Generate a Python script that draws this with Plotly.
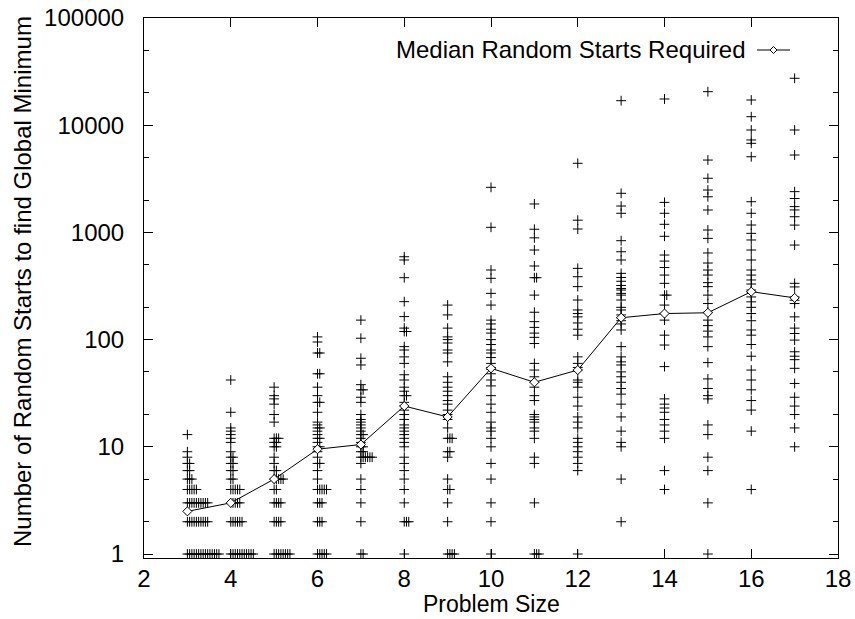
import math
import plotly.graph_objects as go

# ---------------- data ----------------
problem_sizes = [3, 4, 5, 6, 7, 8, 9, 10, 11, 12, 13, 14, 15, 16, 17]
median_starts = [2.5, 3, 5, 9.5, 10.5, 24, 19, 54, 40, 52, 160, 175, 178, 280, 245]

starts_3 = [13, 9, 8, 7, 7, 6, 6, 5, 5, 5] + [4] * 5 + [3] * 10 + [2] * 10 + [1] * 15
starts_4 = [42, 21, 15, 14, 13, 12, 11, 9, 8, 8, 7, 7, 6, 6, 5, 5] + [4] * 5 + [3] * 5 + [2] * 6 + [1] * 11
starts_5 = [36, 30, 28, 25, 20, 17, 12, 12, 12, 11, 11, 10, 10, 8, 7, 6, 6] + [5] * 5 + [4] * 2 + [3] * 4 + [2] * 4 + [1] * 8
starts_6 = [106, 95, 75, 75, 48, 48, 36, 30, 26, 26, 21, 17, 16, 15, 15, 14, 13, 12, 12, 11, 10, 10, 9, 8, 7, 7, 6, 5] + [4] * 5 + [3] * 3 + [2] * 3 + [1] * 5
starts_7 = [152, 103, 67, 58, 38, 34, 34, 29, 26, 20, 18, 17, 16, 15, 14, 13, 13, 12, 11, 10, 10, 9, 9] + [8] * 6 + [7, 5, 4, 3, 2, 1, 1]
starts_8 = [593, 553, 378, 226, 164, 128, 119, 119, 86, 80, 69, 60, 47, 42, 36, 33, 30, 30, 26, 24, 22, 20, 18, 16, 15, 14, 13, 12, 11, 10, 8, 7, 6, 5, 4, 3, 2, 2, 2, 1]
starts_9 = [210, 170, 128, 106, 100, 93, 80, 75, 62, 45, 40, 36, 33, 30, 27, 25, 22, 20, 18, 15, 12, 12, 12, 9, 9, 8, 5, 4, 4, 3, 2, 1, 1, 1, 1]
starts_10 = [2634, 1116, 446, 373, 270, 210, 152, 140, 125, 115, 100, 90, 80, 75, 68, 60, 55, 53, 48, 42, 37, 30, 25, 21, 17, 15, 14, 12, 10, 7, 5, 3, 2, 1]
starts_11 = [1842, 1070, 890, 685, 486, 378, 378, 260, 180, 147, 130, 115, 105, 92, 60, 52, 45, 40, 36, 30, 27, 20, 19, 18, 17, 15, 14, 12, 8, 7, 3, 1, 1, 1]
starts_12 = [4413, 1300, 1076, 462, 386, 312, 234, 189, 175, 163, 143, 125, 110, 69, 60, 55, 52, 42, 40, 36, 29, 24, 19, 17, 15, 12, 11, 10, 9, 8, 7, 6, 1]
starts_13 = [16930, 2317, 1762, 1508, 837, 660, 553, 415, 380, 350, 320, 300, 290, 270, 260, 234, 200, 189, 170, 160, 150, 140, 123, 86, 69, 62, 58, 50, 45, 40, 35, 31, 25, 19, 14, 11, 10, 5, 2]
starts_14 = [17560, 1906, 1508, 1190, 920, 615, 540, 470, 400, 335, 260, 260, 210, 176, 175, 152, 110, 89, 56, 28, 25, 23, 21, 18, 16, 14, 12, 6, 4]
starts_15 = [20550, 4730, 3200, 2485, 2150, 1618, 1053, 880, 643, 518, 446, 400, 340, 312, 260, 217, 180, 152, 135, 120, 106, 86, 61, 43, 35, 30, 28, 16, 13, 8, 6, 3, 1]
starts_16 = [17180, 12000, 9020, 7280, 6780, 5080, 1933, 1508, 1172, 980, 850, 685, 553, 446, 400, 360, 330, 290, 280, 250, 225, 200, 175, 150, 123, 110, 90, 70, 52, 42, 34, 27, 22, 14, 4]
starts_17 = [27400, 9020, 5270, 2400, 2070, 1740, 1620, 1400, 1170, 762, 335, 310, 250, 233, 217, 163, 128, 114, 99, 77, 70, 65, 54, 39, 29, 24, 20, 15, 10]

all_starts = [starts_3, starts_4, starts_5, starts_6, starts_7, starts_8, starts_9,
              starts_10, starts_11, starts_12, starts_13, starts_14, starts_15,
              starts_16, starts_17]

x_ticks = [2, 4, 6, 8, 10, 12, 14, 16, 18]
y_ticks = [1, 10, 100, 1000, 10000, 100000]
y_tick_text = ["1", "10", "100", "1000", "10000", "100000"]

# ---------------- build scatter with swarm-style jitter for duplicates ----------------
JITTER = 0.052
px, py = [], []
for size, vals in zip(problem_sizes, all_starts):
    seen = {}
    for v in vals:
        k = seen.get(v, 0)
        seen[v] = k + 1
        px.append(size + k * JITTER)
        py.append(v)

FONT = "Liberation Sans, Arial, sans-serif"
FS = 24

fig = go.Figure()
fig.add_trace(go.Scatter(
    x=px, y=py, mode="markers", showlegend=False,
    marker=dict(symbol="cross-thin", size=7, color="black",
                line=dict(width=1, color="black")),
    hoverinfo="x+y",
))
fig.add_trace(go.Scatter(
    x=problem_sizes, y=median_starts, mode="lines+markers",
    name="Median Random Starts Required", showlegend=False,
    line=dict(color="black", width=1),
    marker=dict(symbol="diamond", size=7, color="white",
                line=dict(width=1, color="black")),
))

# plot-area geometry in pixels (for the gnuplot-style legend placed inside)
L, R, T, B = 144, 838, 18, 558
W, H = R - L, B - T

fig.add_annotation(xref="paper", yref="paper", x=(748 - L) / W, y=1 - (50 - T) / H,
                   text="Median Random Starts Required", showarrow=False,
                   xanchor="right", yanchor="middle",
                   font=dict(family=FONT, size=FS, color="black"))
lx0, lx1, ly = (757 - L) / W, (790 - L) / W, 1 - (50 - T) / H
fig.add_shape(type="line", xref="paper", yref="paper", x0=lx0, x1=lx1, y0=ly, y1=ly,
              line=dict(color="black", width=1))
cx = (lx0 + lx1) / 2
dx, dy = 3.5 / W, 3.5 / H
fig.add_shape(type="path", xref="paper", yref="paper",
              path=f"M {cx - dx} {ly} L {cx} {ly + dy} L {cx + dx} {ly} L {cx} {ly - dy} Z",
              fillcolor="white", line=dict(color="black", width=1))

# axis titles, placed like gnuplot's xlabel / ylabel
fig.add_annotation(xref="paper", yref="paper", x=(22 - L) / W, y=1 - (282 - T) / H,
                   text="Number of Random Starts to find Global Minimum", showarrow=False,
                   textangle=-90, xanchor="center", yanchor="middle",
                   font=dict(family=FONT, size=FS, color="black"))
fig.add_annotation(xref="paper", yref="paper", x=0.5, y=1 - (604 - T) / H,
                   text="Problem Size", showarrow=False, borderpad=0,
                   xanchor="center", yanchor="middle",
                   font=dict(family=FONT, size=23, color="black"))

fig.update_layout(
    width=855, height=619,
    margin=dict(l=L, r=855 - R, t=T, b=619 - B, autoexpand=False),
    paper_bgcolor="white", plot_bgcolor="white",
    font=dict(family=FONT, size=FS, color="black"),
    xaxis=dict(
        range=[2, 18], tickvals=x_ticks, ticks="inside", ticklen=9,
        tickcolor="black", showline=True, linecolor="black", linewidth=1,
        mirror="allticks", showgrid=False, zeroline=False, automargin=False,
        tickfont=dict(family=FONT, size=FS),
        ticklabelstandoff=-1,
    ),
    yaxis=dict(
        type="log", range=[math.log10(0.918), 5], tickvals=y_ticks, ticktext=y_tick_text,
        ticks="inside", ticklen=9, tickcolor="black",
        minor=dict(ticks="inside", ticklen=5, tickcolor="black", showgrid=False),
        showline=True, linecolor="black", linewidth=1, mirror="allticks",
        showgrid=False, zeroline=False, automargin=False,
        tickfont=dict(family=FONT, size=FS),
        ticklabelstandoff=14,
    ),
)

fig.write_html("out.html", config={"displayModeBar": False},
               post_script="document.body.style.margin='0';")
